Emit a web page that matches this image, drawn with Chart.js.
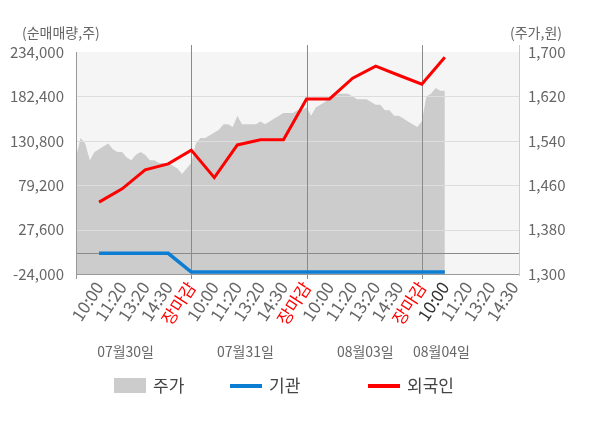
<!DOCTYPE html>
<html>
<head>
<meta charset="utf-8">
<script src="https://cdn.jsdelivr.net/npm/chart.js@4.4.1/dist/chart.umd.min.js"></script>
<style>
  html, body { margin: 0; padding: 0; background: #fff; }
  #wrap { width: 600px; height: 428px; }
</style>
</head>
<body>
<div id="wrap"><canvas id="chart"></canvas></div>
<script>
// tick labels on the time axis (one per slot, slot 1 = first 10:00)
const timeLabels = ['10:00','11:20','13:20','14:30','장마감',
                    '10:00','11:20','13:20','14:30','장마감',
                    '10:00','11:20','13:20','14:30','장마감',
                    '10:00','11:20','13:20','14:30'];
const dayLabels = ['07월30일', '07월31일', '08월03일', '08월04일'];

// net buying, shares (one value per slot from slot 1)
const institution = [0, 0, 0, 0, -21700, -21700, -21700, -21700, -21700, -21700,
                     -21700, -21700, -21700, -21700, -21700, -21700];
const foreign = [59500, 75000, 97000, 104000, 120000, 88000, 126000, 132000,
                 132000, 179500, 179500, 203500, 217500, 207000, 196500, 228000];

// stock price, won, sampled every 0.2 slot from the open of day 1
const priceStep = 0.2;
const price = [
  1510, 1545, 1535, 1505, 1520, 1525, 1530, 1535, 1525, 1520, 1520, 1510, 1505,
  1515, 1520, 1515, 1505, 1505, 1500, 1500, 1500, 1495, 1490, 1480, 1490, 1500,
  1535, 1545, 1545, 1550, 1555, 1560, 1570, 1570, 1565, 1585, 1570, 1570, 1570,
  1570, 1575, 1570, 1575, 1580, 1585, 1590, 1590, 1590, 1595, 1595, 1600,
  1585, 1600, 1605, 1610, 1620, 1620, 1625, 1625, 1625, 1620, 1615, 1615, 1615,
  1610, 1605, 1605, 1595, 1595, 1585, 1585, 1580, 1575, 1570, 1565, 1575,
  1620, 1625, 1635, 1630, 1630
];

const leftTicks = [-24000, 27600, 79200, 130800, 182400, 234000];
const rightTicks = [1300, 1380, 1460, 1540, 1620, 1700];

const FONT = "'Noto Sans CJK KR', 'Noto Sans', sans-serif";
const fmt = v => v.toLocaleString('en-US');

// background, grid and legend drawn around the datasets
const frame = {
  id: 'frame',
  beforeDatasetsDraw(chart) {
    const { ctx, chartArea: a } = chart;
    ctx.save();
    ctx.fillStyle = '#f5f5f5';
    ctx.fillRect(a.left, a.top, a.right - a.left, a.bottom - a.top);
    ctx.restore();
  },
  afterDatasetDraw(chart, args) {
    if (args.index !== 0) return; // after the price area, under the lines
    const { ctx, chartArea: a, scales } = chart;
    const line = (x1, y1, x2, y2, color) => {
      ctx.strokeStyle = color;
      ctx.beginPath();
      ctx.moveTo(x1, y1);
      ctx.lineTo(x2, y2);
      ctx.stroke();
    };
    ctx.save();
    ctx.lineWidth = 1;
    leftTicks.slice(1, -1).forEach(t => {
      const y = Math.round(scales.y.getPixelForValue(t)) + 0.5;
      line(a.left, y, a.right, y, '#dddddd');
    });
    const y0 = Math.round(scales.y.getPixelForValue(0)) + 0.5;
    line(a.left, y0, a.right, y0, '#8a8a8a');
    [5, 10, 15].forEach(s => {
      const x = Math.round(scales.x.getPixelForValue(s)) + 0.5;
      line(x, a.top - 7, x, a.bottom + 5, '#8a8a8a');
    });
    const b = Math.round(a.bottom) + 0.5;
    line(a.left, b, a.right, b, '#999999');
    line(Math.round(a.left) + 0.5, a.top, Math.round(a.left) + 0.5, a.bottom + 5, '#999999');
    line(Math.round(a.right) - 0.5, a.top - 7, Math.round(a.right) - 0.5, a.bottom + 2, '#cccccc');
    ctx.restore();
  },
  afterDraw(chart) {
    const { ctx, scales } = chart;
    ctx.save();
    ctx.textBaseline = 'middle';
    ctx.fillStyle = '#666';
    ctx.font = '14px ' + FONT;
    ctx.textAlign = 'left';
    ctx.fillText('(순매매량,주)', 22, 33);
    ctx.textAlign = 'right';
    ctx.fillText('(주가,원)', 562, 33);

    // day captions under the time ticks
    ctx.textAlign = 'center';
    const daySlots = [2.15, 7.35, 12.55, 15.85];
    dayLabels.forEach((d, i) => {
      ctx.fillText(d, scales.x.getPixelForValue(daySlots[i]), 352);
    });

    // legend
    ctx.font = '17px ' + FONT;
    ctx.textAlign = 'left';
    const ds = chart.data.datasets;
    const items = [[ds[0], 114], [ds[1], 230], [ds[2], 368]];
    items.forEach(([d, x], i) => {
      if (i === 0) {
        ctx.fillStyle = d.backgroundColor;
        ctx.fillRect(x, 378, 32, 15);
      } else {
        ctx.strokeStyle = d.borderColor;
        ctx.lineWidth = 4;
        ctx.beginPath();
        ctx.moveTo(x, 386);
        ctx.lineTo(x + 32, 386);
        ctx.stroke();
      }
      ctx.fillStyle = '#444';
      ctx.fillText(d.label, x + 39, 386);
    });
    ctx.restore();
  }
};

new Chart(document.getElementById('chart'), {
  type: 'line',
  data: {
    datasets: [
      {
        label: '주가',
        data: price.map((p, i) => ({ x: i * priceStep, y: p })),
        yAxisID: 'yR',
        backgroundColor: '#cccccc',
        borderWidth: 0,
        fill: 'start',
        pointRadius: 0,
        tension: 0,
        order: 3
      },
      {
        label: '기관',
        data: institution.map((v, i) => ({ x: i + 1, y: v })),
        yAxisID: 'y',
        borderColor: '#0b7dd3',
        borderWidth: 3.5,
        pointRadius: 0,
        fill: false,
        order: 2
      },
      {
        label: '외국인',
        data: foreign.map((v, i) => ({ x: i + 1, y: v })),
        yAxisID: 'y',
        borderColor: '#ff0000',
        borderWidth: 3,
        pointRadius: 0,
        fill: false,
        order: 1
      }
    ]
  },
  options: {
    responsive: true,
    maintainAspectRatio: false,
    animation: false,
    layout: { padding: { top: 52, left: 0, right: 0, bottom: 0 } },
    plugins: { legend: { display: false }, tooltip: { enabled: false } },
    scales: {
      x: {
        type: 'linear',
        min: 0,
        max: 19.26,
        grid: { display: false, drawTicks: false },
        border: { display: false },
        afterBuildTicks: s => { s.ticks = timeLabels.map((_, i) => ({ value: i + 1 })); },
        afterFit: s => { s.height = 154; },
        ticks: {
          autoSkip: false,
          minRotation: 57,
          maxRotation: 57,
          padding: 4,
          font: { family: FONT, size: 17 },
          color: c => {
            const lbl = timeLabels[c.tick.value - 1];
            if (lbl === '장마감') return '#ff0000';
            return c.tick.value === 16 ? '#333' : '#666';
          },
          callback: v => timeLabels[v - 1]
        }
      },
      y: {
        position: 'left',
        min: -24000,
        max: 234000,
        grid: { display: false, drawTicks: false },
        border: { display: false },
        afterBuildTicks: s => { s.ticks = leftTicks.map(v => ({ value: v })); },
        afterFit: s => { s.width = 76; },
        ticks: {
          padding: 12,
          font: { family: FONT, size: 15 },
          color: '#666',
          callback: v => fmt(v)
        }
      },
      yR: {
        position: 'right',
        min: 1300,
        max: 1700,
        grid: { display: false, drawTicks: false },
        border: { display: false },
        afterBuildTicks: s => { s.ticks = rightTicks.map(v => ({ value: v })); },
        afterFit: s => { s.width = 80; },
        ticks: {
          padding: 8,
          font: { family: FONT, size: 15 },
          color: '#666',
          callback: v => fmt(v)
        }
      }
    }
  },
  plugins: [frame]
});
</script>
</body>
</html>
